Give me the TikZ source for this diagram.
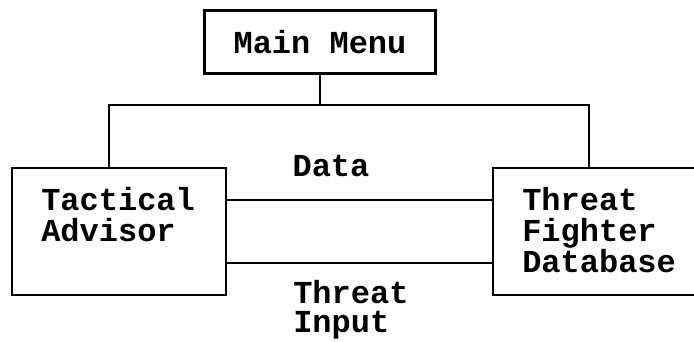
\documentclass[tikz,border=0pt]{standalone}
\usepackage{fontspec}
\setmonofont{Liberation Mono}
\usetikzlibrary{positioning}

\begin{document}
\begin{tikzpicture}[x=0.75pt,y=-0.75pt]

\tikzstyle{bx} = [rectangle, draw=black, line width=1.7pt, inner sep=0pt]
\tikzstyle{txt} = [font=\ttfamily\bfseries\fontsize{24}{23.25}\selectfont, align=left, inner sep=0pt]
\tikzstyle{ln} = [draw=black, line width=1.7pt]
\useasboundingbox (0,0) rectangle (694,342);

\node (menu) [bx, txt, minimum width=173.25pt, minimum height=47.25pt] at (320,42) {Main Menu};
\node (tactical) [bx, minimum width=160.5pt, minimum height=95.25pt] at (119,231.5) {};
\node (threatfd) [bx, minimum width=153.75pt, minimum height=95.25pt] at (595.5,231.5) {};
\node (tacticaltxt) [txt, anchor=base west] at (41,242) {Tactical\\Advisor};
\node (threatfdtxt) [txt, anchor=base west] at (522,273) {Threat\\Fighter\\Database};
\node (data) [txt, anchor=base] at (331,177) {Data};
\node (input) [txt, anchor=base west] at (293,333) {Threat\\[-1.5pt]Input};

\coordinate (busl) at (109,105);
\coordinate (busr) at (589,105);
\draw [ln] (menu.south) -- (menu.south |- busl);
\draw [ln] (tactical.north -| busl) -- (busl) -- (busr) -- (threatfd.north -| busr);
\draw [ln] ([yshift=23.6pt]tactical.east) -- ([yshift=23.6pt]threatfd.west);
\draw [ln] ([yshift=-23.6pt]tactical.east) -- ([yshift=-23.6pt]threatfd.west);
\end{tikzpicture}
\end{document}
